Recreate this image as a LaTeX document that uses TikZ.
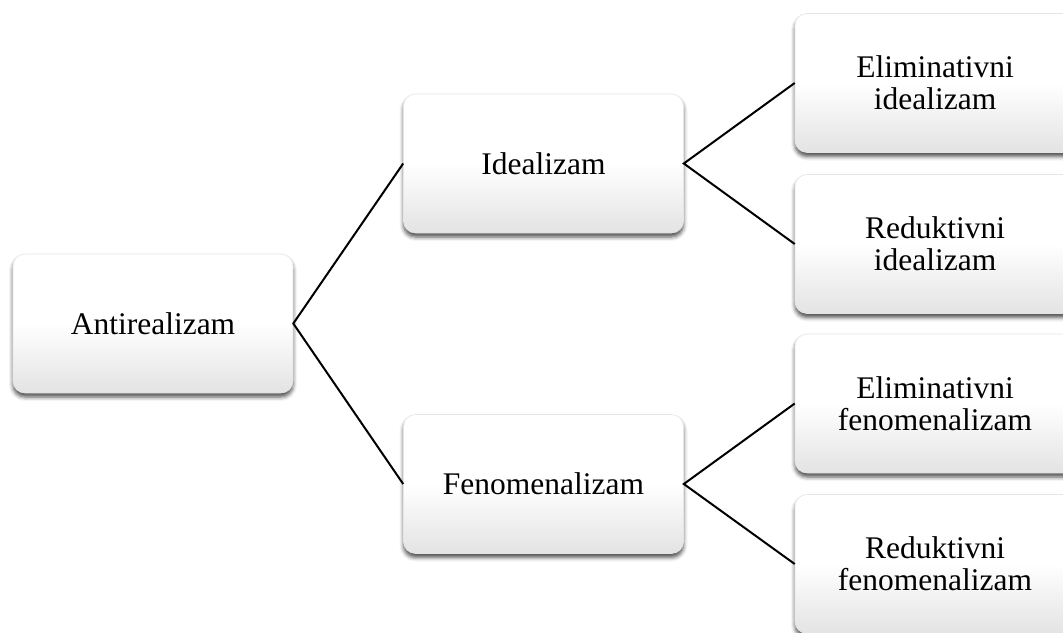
\documentclass[tikz,border=0pt]{standalone}
\usepackage{fontspec}
\setmainfont{Liberation Serif}
\usetikzlibrary{shadows.blur}
\pgfdeclareverticalshading{boxshade}{100bp}{color(0bp)=(black!11); color(25bp)=(black!11); color(50bp)=(white); color(100bp)=(white)}
\tikzset{
  box/.style={rectangle, rounded corners=12pt, minimum width=280pt, minimum height=139pt,
    inner sep=0pt, shading=boxshade, draw=black!10, line width=0.6pt,
    align=center, font=\fontsize{31.5}{32}\selectfont,
    blur shadow={shadow xshift=0pt, shadow yshift=-4pt, shadow blur radius=4pt, shadow opacity=70}},
  link/.style={draw=black, line width=2pt}
}
\begin{document}
\begin{tikzpicture}[x=1pt,y=-1pt]
\useasboundingbox (0,0) rectangle (1063,632);
\clip (0,0) rectangle (1063,632);
\node[box] (anti) at (153,323.5) {Antirealizam};
\node[box] (ideal) at (543.5,163.5) {Idealizam};
\node[box] (fenom) at (543.5,484) {Fenomenalizam};
\node[box] (ei) at (935,83) {Eliminativni\\idealizam};
\node[box] (ri) at (935,244) {Reduktivni\\idealizam};
\node[box] (ef) at (935,403.5) {Eliminativni\\fenomenalizam};
\node[box] (rf) at (935,564) {Reduktivni\\fenomenalizam};
\draw[link] (ideal.west) -- (anti.east) -- (fenom.west);
\draw[link] (ei.west) -- (ideal.east) -- (ri.west);
\draw[link] (ef.west) -- (fenom.east) -- (rf.west);
\end{tikzpicture}
\end{document}
